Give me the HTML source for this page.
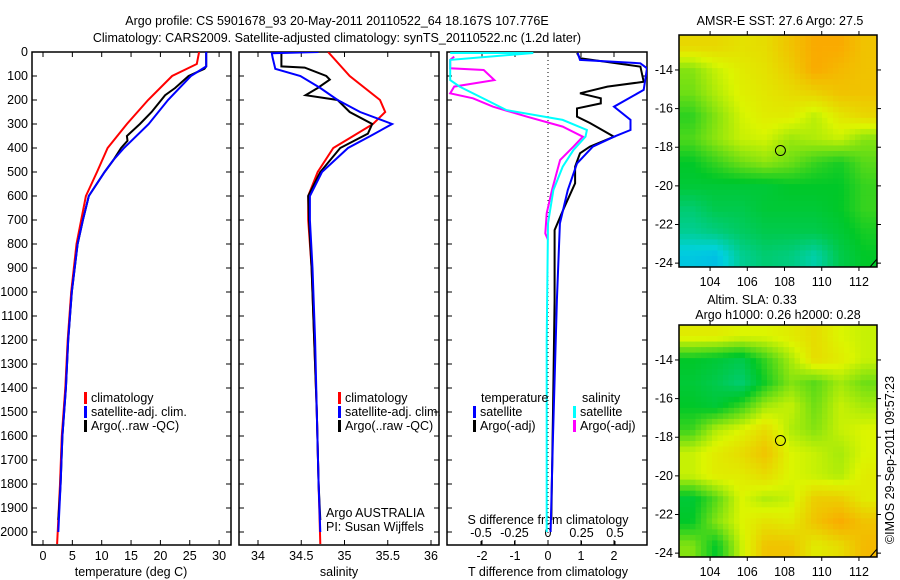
<!DOCTYPE html>
<html><head><meta charset="utf-8"><style>
body{margin:0;background:#fff}
svg{display:block;font-family:"Liberation Sans",sans-serif;font-size:12.5px}
</style></head><body>
<svg id="s" width="900" height="580" viewBox="0 0 900 580">
<text x="337" y="25" text-anchor="middle">Argo profile: CS 5901678_93 20-May-2011 20110522_64 18.167S 107.776E</text>
<text x="337" y="42" text-anchor="middle">Climatology: CARS2009. Satellite-adjusted climatology: synTS_20110522.nc (1.2d later)</text>
</svg>
<script>
// ---- data ----
const depthTicks=[0,100,200,300,400,500,600,700,800,900,1000,1100,1200,1300,1400,1500,1600,1700,1800,1900,2000];
const tempTicks=[0,5,10,15,20,25,30];
const salTicks=[34,34.5,35,35.5,36];
const tdTicks=[-2,-1,0,1,2];
const sdTicks=[-0.5,-0.25,0,0.25,0.5];
const sdTickLabels=["-0.5","-0.25","0","0.25","0.5"];
const tClimD=[0,50,100,200,300,400,500,600,700,800,1000,1200,1400,1600,1800,2000,2050];
const tClimV=[26.6,26.2,22,17.9,14.3,11,9.2,7.3,6.5,5.7,4.8,4.2,3.8,3.2,2.9,2.5,2.4];
const tSatD=[0,60,100,200,300,400,450,500,600,700,800,1000,1200,1400,1600,1800,2000];
const tSatV=[27.8,27.8,25.2,21.3,18,13.8,12,10.5,7.8,6.8,5.9,4.9,4.3,3.9,3.3,3,2.6];
const tArgoD=[0,60,70,100,150,180,250,300,350,370,400,450,500,600,700,800,1000,1200,1400,1600,1800,1950];
const tArgoV=[27.8,27.8,27.5,24.8,22.5,20.8,18.5,16.5,14.3,14.4,13.3,12,10.5,7.8,6.8,5.9,4.9,4.3,3.9,3.3,3,2.6];
const sClimD=[0,100,200,250,300,350,400,500,600,700,900,1200,1500,1800,2050];
const sClimV=[34.81,35.06,35.41,35.47,35.33,35.1,34.87,34.69,34.58,34.58,34.62,34.65,34.68,34.7,34.72];
const sSatD=[0,5,25,70,100,150,200,250,300,350,400,500,600,700,900,1200,1500,1800,2000];
const sSatV=[34.7,34.16,34.17,34.2,34.49,34.72,34.92,35.18,35.55,35.3,35.04,34.74,34.6,34.6,34.63,34.66,34.68,34.7,34.72];
const sArgoD=[0,60,65,100,115,150,180,200,250,300,340,400,500,600,700,900,1200,1500,1800,1950];
const sArgoV=[34.27,34.27,34.54,34.79,34.83,34.69,34.55,34.92,35.06,35.32,35.27,34.95,34.72,34.58,34.59,34.62,34.65,34.68,34.7,34.72];
const dtSatD=[4,33,47,68,158,228,283,325,353,394,464,575,714,1033,1600,2000];
const dtSatV=[0.9,0.97,2.8,3.0,2.9,2.0,2.5,2.5,2.0,1.36,0.88,0.6,0.36,0.27,0.15,0.08];
const dtArgoD=[4,26,61,124,144,172,193,214,235,269,296,353,394,422,478,547,645,742,1033,1500,1950];
const dtArgoV=[0.88,0.97,2.8,2.9,1.8,0.97,1.6,1.6,0.88,0.88,1.27,2.0,1.27,0.97,0.82,0.82,0.5,0.2,0.2,0.15,0.1];
const dsSatD=[4,4,33,117,144,200,242,283,325,353,408,478,575,714,1200,2000];
const dsSatV=[-0.73,-0.11,-0.73,-0.73,-0.66,-0.46,-0.31,0.11,0.29,0.28,0.19,0.11,0.04,0,-0.01,-0.01];
const dsArgoD=[19,33,68,75,117,144,172,193,228,269,311,353,394,450,575,672,756,783];
const dsArgoV=[-0.7,-0.73,-0.73,-0.48,-0.4,-0.7,-0.73,-0.56,-0.41,-0.16,0.11,0.26,0.19,0.09,0.03,-0.01,-0.02,0];
const lonTicks=[104,106,108,110,112];
const latTicks=[-14,-16,-18,-20,-22,-24];
const sstGrid=[
[0.76,0.76,0.74,0.75,0.8,0.85,0.85,0.8],
[0.62,0.68,0.72,0.74,0.78,0.85,0.82,0.8],
[0.6,0.66,0.71,0.73,0.75,0.77,0.8,0.8],
[0.54,0.62,0.69,0.72,0.72,0.67,0.73,0.76],
[0.57,0.63,0.68,0.69,0.64,0.66,0.68,0.62],
[0.5,0.55,0.6,0.63,0.6,0.55,0.52,0.58],
[0.48,0.48,0.48,0.48,0.5,0.5,0.5,0.55],
[0.4,0.45,0.45,0.48,0.48,0.48,0.5,0.55],
[0.35,0.38,0.42,0.45,0.45,0.45,0.48,0.52],
[0.22,0.2,0.35,0.4,0.38,0.32,0.45,0.5]];
const slaGrid=[
[0.72,0.72,0.7,0.7,0.72,0.75,0.7,0.68],
[0.5,0.48,0.45,0.55,0.65,0.75,0.72,0.68],
[0.48,0.45,0.4,0.52,0.62,0.58,0.65,0.6],
[0.5,0.48,0.55,0.65,0.68,0.6,0.68,0.65],
[0.55,0.66,0.7,0.75,0.66,0.62,0.68,0.7],
[0.68,0.72,0.75,0.8,0.7,0.68,0.65,0.7],
[0.68,0.72,0.72,0.75,0.7,0.68,0.66,0.72],
[0.48,0.58,0.7,0.66,0.68,0.78,0.78,0.72],
[0.5,0.62,0.7,0.74,0.72,0.8,0.85,0.8],
[0.62,0.5,0.68,0.8,0.8,0.72,0.75,0.82]];
const argoLon=107.78, argoLat=-18.17;

// ---- drawing ----
const S=document.getElementById('s'), NS='http://www.w3.org/2000/svg';
function el(t,a,p){const e=document.createElementNS(NS,t);for(const k in a)e.setAttribute(k,a[k]);(p||S).appendChild(e);return e;}
function txt(x,y,s,anchor,p){const e=el('text',{x:x,y:y,'text-anchor':anchor||'start'},p);e.textContent=s;return e;}
const yD=d=>52+0.24*d;
const xT=v=>43+5.87*v, xS=v=>258+86.5*(v-34), xDT=v=>548+33*v, xDS=v=>548+134*v;
const panels=[[32,231],[239,439],[447,647]];
panels.forEach((p,i)=>{
  const cp=el('clipPath',{id:'c'+i});el('rect',{x:p[0],y:52,width:p[1]-p[0],height:493},cp);
});
function line(xs,ds,fx,col,ci,name){
  const pts=xs.map((v,i)=>fx(v).toFixed(1)+','+yD(ds[i]).toFixed(1)).join(' ');
  const e=el('polyline',{points:pts,fill:'none',stroke:col,'stroke-width':2,'clip-path':'url(#c'+ci+')'});
  
  
}
panels.forEach((p,i)=>{
  const r=el('rect',{x:p[0],y:52,width:p[1]-p[0],height:493,fill:'none',stroke:'#000','stroke-width':1.5});
  
  
  depthTicks.forEach(d=>{el('line',{x1:p[0],x2:p[0]+5,y1:yD(d),y2:yD(d),stroke:'#000'});el('line',{x1:p[1]-5,x2:p[1],y1:yD(d),y2:yD(d),stroke:'#000'});});
});
depthTicks.forEach(d=>{const t=txt(28,yD(d)+4,String(d),'end');});
function xticks(ticks,fx,labels,ylab){ticks.forEach((v,i)=>{const x=fx(v);el('line',{x1:x,x2:x,y1:545,y2:540,stroke:'#000'});el('line',{x1:x,x2:x,y1:52,y2:57,stroke:'#000'});
  const t=txt(x,ylab,labels?labels[i]:String(v),'middle');});}
xticks(tempTicks,xT,null,560);xticks(salTicks,xS,null,560);xticks(tdTicks,xDT,null,560);
sdTicks.forEach((v,i)=>{const x=xDS(v);el('line',{x1:x,x2:x,y1:545,y2:541,stroke:'#000'});const t=txt(x,537,sdTickLabels[i],'middle');});
el('line',{x1:548,x2:548,y1:52,y2:545,stroke:'#000','stroke-dasharray':'1,3'});
[['temperature (deg C)',131],['salinity',339],['T difference from climatology',548]].forEach(a=>{const t=txt(a[1],576,a[0],'middle');});
{const t=txt(548,524,'S difference from climatology','middle');}
line(tClimV,tClimD,xT,'#f00',0,'temp-climatology-line');
line(tArgoV,tArgoD,xT,'#000',0,'temp-argo-line');
line(tSatV,tSatD,xT,'#00f',0,'temp-satellite-line');
line(sClimV,sClimD,xS,'#f00',1,'sal-climatology-line');
line(sArgoV,sArgoD,xS,'#000',1,'sal-argo-line');
line(sSatV,sSatD,xS,'#00f',1,'sal-satellite-line');
line(dsArgoV,dsArgoD,xDS,'#f0f',2,'sdiff-argo-line');
line(dsSatV,dsSatD,xDS,'#0ff',2,'sdiff-satellite-line');
line(dtArgoV,dtArgoD,xDT,'#000',2,'tdiff-argo-line');
line(dtSatV,dtSatD,xDT,'#00f',2,'tdiff-satellite-line');
function leg(x,y,col,label){el('rect',{x:x,y:y-10,width:3,height:12,fill:col});const t=txt(x+7,y,label);}
[84,338].forEach(x=>{leg(x,402,'#f00','climatology');leg(x,416,'#00f','satellite-adj. clim.');leg(x,430,'#000','Argo(..raw -QC)');});
txt(481,402,'temperature');txt(582,402,'salinity');
leg(473,416,'#00f','satellite');leg(473,430,'#000','Argo(-adj)');
leg(573,416,'#0ff','satellite');leg(573,430,'#f0f','Argo(-adj)');
txt(326,517,'Argo AUSTRALIA');txt(326,531,'PI: Susan Wijffels');
function cmap(v){const stops=[[0,[0,120,255]],[0.25,[0,210,220]],[0.5,[0,200,40]],[0.7,[220,245,0]],[0.85,[250,170,0]],[1,[240,80,0]]];
  for(let i=1;i<stops.length;i++){if(v<=stops[i][0]){const a=stops[i-1],b=stops[i],f=(v-a[0])/(b[0]-a[0]);return 'rgb('+a[1].map((c,k)=>Math.round(c+f*(b[1][k]-c))).join(',')+')';}}return 'rgb(240,80,0)';}
function sample(grid,u,v){const R=grid.length,C=grid[0].length;
  let x=u*C-0.5,y=v*R-0.5;x=Math.max(0,Math.min(C-1,x));y=Math.max(0,Math.min(R-1,y));
  const x0=Math.floor(x),y0=Math.floor(y),x1=Math.min(C-1,x0+1),y1=Math.min(R-1,y0+1),fx=x-x0,fy=y-y0;
  return grid[y0][x0]*(1-fx)*(1-fy)+grid[y0][x1]*fx*(1-fy)+grid[y1][x0]*(1-fx)*fy+grid[y1][x1]*fx*fy;}
function map(y0,grid,name){
  const x0=679,w=198,h=232,lonA=102.33,lonB=112.97,latA=-12.19,latB=-24.2;
  const fx=l=>x0+(l-lonA)/(lonB-lonA)*w, fy=l=>y0+(l-latA)/(latB-latA)*h;
  const g=el('g',{});
  const NC=36,NR=42;
  for(let r=0;r<NR;r++)for(let c=0;c<NC;c++){el('rect',{x:(x0+c*w/NC).toFixed(2),y:(y0+r*h/NR).toFixed(2),width:(w/NC+0.4).toFixed(2),height:(h/NR+0.4).toFixed(2),fill:cmap(sample(grid,(c+0.5)/NC,(r+0.5)/NR))},g);}
  el('rect',{x:x0,y:y0,width:w,height:h,fill:'none',stroke:'#000','stroke-width':1.5});
  lonTicks.forEach(l=>{const x=fx(l);el('line',{x1:x,x2:x,y1:y0,y2:y0-4,stroke:'#000'});el('line',{x1:x,x2:x,y1:y0+h,y2:y0+h+4,stroke:'#000'});txt(x,y0+h+19,String(l),'middle');});
  latTicks.forEach(l=>{const y=fy(l);el('line',{x1:x0,x2:x0-4,y1:y,y2:y,stroke:'#000'});el('line',{x1:x0+w,x2:x0+w+4,y1:y,y2:y,stroke:'#000'});txt(673,y+4,String(l),'end');});
  const c=el('circle',{cx:fx(argoLon),cy:fy(argoLat),r:5,fill:'none',stroke:'#000'});
  el('path',{d:`M${x0+w-7} ${y0+h} L${x0+w} ${y0+h-8}`,stroke:'#000',fill:'none'});
}
map(35,sstGrid,'sst-map');map(325,slaGrid,'sla-map');
txt(780,25,'AMSR-E SST: 27.6 Argo: 27.5','middle');
txt(752,304,'Altim. SLA: 0.33','middle');
txt(778,319,'Argo h1000: 0.26 h2000: 0.28','middle');
{const t=txt(0,0,'©IMOS 29-Sep-2011 09:57:23','middle');t.setAttribute('transform','translate(894,460) rotate(-90)');}
</script>
</body></html>
